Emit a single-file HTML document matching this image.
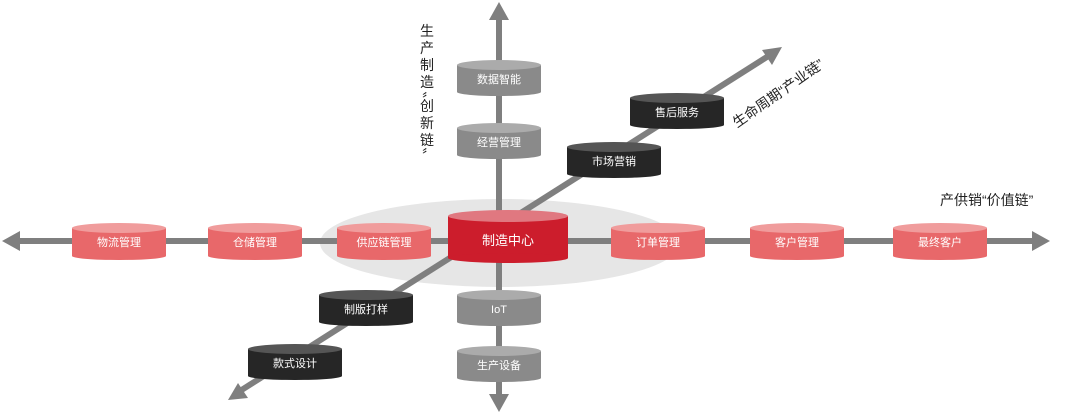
<!DOCTYPE html>
<html><head><meta charset="utf-8"><style>
html,body{margin:0;padding:0;background:#fff;width:1080px;height:414px;overflow:hidden}
text{font-family:"Liberation Sans","Noto Sans CJK SC",sans-serif}
</style></head><body>
<svg width="1080" height="414" viewBox="0 0 1080 414" xmlns="http://www.w3.org/2000/svg">
<ellipse cx="500" cy="243" rx="180" ry="44" fill="#e6e6e6"/>
<g stroke="#7f7f7f" stroke-width="6" fill="none">
<line x1="499" y1="18" x2="499" y2="400"/>
<line x1="16" y1="241" x2="1038" y2="241"/>
<line x1="240" y1="391" x2="770" y2="55"/>
</g>
<g fill="#7f7f7f">
<polygon points="499,2 489,20 509,20"/>
<polygon points="499,412 489,394 509,394"/>
<polygon points="2,241 20,231 20,251"/>
<polygon points="1050,241 1032,231 1032,251"/>
<polygon points="782,47 762,50 772,65"/>
<polygon points="228,400 238,383 248,398"/>
</g>
<g font-size="11" fill="#fff" text-anchor="middle">
<!-- gray -->
<rect x="457" y="65" width="84" height="27" fill="#8a8a8a"/><ellipse cx="499" cy="92" rx="42" ry="4" fill="#8a8a8a"/><ellipse cx="499" cy="65" rx="42" ry="5" fill="#ababab"/><text x="499" y="83">数据智能</text>
<rect x="457" y="128" width="84" height="27" fill="#8a8a8a"/><ellipse cx="499" cy="155" rx="42" ry="4" fill="#8a8a8a"/><ellipse cx="499" cy="128" rx="42" ry="5" fill="#ababab"/><text x="499" y="146">经营管理</text>
<rect x="457" y="295" width="84" height="27" fill="#8a8a8a"/><ellipse cx="499" cy="322" rx="42" ry="4" fill="#8a8a8a"/><ellipse cx="499" cy="295" rx="42" ry="5" fill="#ababab"/><text x="499" y="313">IoT</text>
<rect x="457" y="351" width="84" height="27" fill="#8a8a8a"/><ellipse cx="499" cy="378" rx="42" ry="4" fill="#8a8a8a"/><ellipse cx="499" cy="351" rx="42" ry="5" fill="#ababab"/><text x="499" y="369">生产设备</text>
<!-- black -->
<rect x="630" y="98" width="94" height="27" fill="#262626"/><ellipse cx="677" cy="125" rx="47" ry="4" fill="#262626"/><ellipse cx="677" cy="98" rx="47" ry="5" fill="#555"/><text x="677" y="116">售后服务</text>
<rect x="567" y="147" width="94" height="27" fill="#262626"/><ellipse cx="614" cy="174" rx="47" ry="4" fill="#262626"/><ellipse cx="614" cy="147" rx="47" ry="5" fill="#555"/><text x="614" y="165">市场营销</text>
<rect x="319" y="295" width="94" height="27" fill="#262626"/><ellipse cx="366" cy="322" rx="47" ry="4" fill="#262626"/><ellipse cx="366" cy="295" rx="47" ry="5" fill="#555"/><text x="366" y="313">制版打样</text>
<rect x="248" y="349" width="94" height="27" fill="#262626"/><ellipse cx="295" cy="376" rx="47" ry="4" fill="#262626"/><ellipse cx="295" cy="349" rx="47" ry="5" fill="#555"/><text x="295" y="367">款式设计</text>
<!-- pink -->
<rect x="72" y="228" width="94" height="28" fill="#e8686a"/><ellipse cx="119" cy="256" rx="47" ry="4" fill="#e8686a"/><ellipse cx="119" cy="228" rx="47" ry="5" fill="#f09c9c"/><text x="119" y="246">物流管理</text>
<rect x="208" y="228" width="94" height="28" fill="#e8686a"/><ellipse cx="255" cy="256" rx="47" ry="4" fill="#e8686a"/><ellipse cx="255" cy="228" rx="47" ry="5" fill="#f09c9c"/><text x="255" y="246">仓储管理</text>
<rect x="337" y="228" width="94" height="28" fill="#e8686a"/><ellipse cx="384" cy="256" rx="47" ry="4" fill="#e8686a"/><ellipse cx="384" cy="228" rx="47" ry="5" fill="#f09c9c"/><text x="384" y="246">供应链管理</text>
<rect x="611" y="228" width="94" height="28" fill="#e8686a"/><ellipse cx="658" cy="256" rx="47" ry="4" fill="#e8686a"/><ellipse cx="658" cy="228" rx="47" ry="5" fill="#f09c9c"/><text x="658" y="246">订单管理</text>
<rect x="750" y="228" width="94" height="28" fill="#e8686a"/><ellipse cx="797" cy="256" rx="47" ry="4" fill="#e8686a"/><ellipse cx="797" cy="228" rx="47" ry="5" fill="#f09c9c"/><text x="797" y="246">客户管理</text>
<rect x="893" y="228" width="94" height="28" fill="#e8686a"/><ellipse cx="940" cy="256" rx="47" ry="4" fill="#e8686a"/><ellipse cx="940" cy="228" rx="47" ry="5" fill="#f09c9c"/><text x="940" y="246">最终客户</text>
<!-- center -->
<rect x="448" y="216" width="120" height="42" fill="#cc1d2c"/><ellipse cx="508" cy="258" rx="60" ry="5" fill="#cc1d2c"/><ellipse cx="508" cy="216" rx="60" ry="6" fill="#e07880"/><text x="508" y="245" font-size="13">制造中心</text>
</g>
<g font-size="14" fill="#222">
<text x="420" y="36">生</text><text x="420" y="53">产</text><text x="420" y="70">制</text><text x="420" y="87">造</text>
<text x="422" y="104">〞</text><text x="420" y="111">创</text><text x="420" y="128">新</text><text x="420" y="145">链</text><text x="422" y="160">〞</text>
<text x="940" y="205">产供销“价值链”</text>
<text transform="translate(737,128) rotate(-35)">生命周期“产业链”</text>
</g>
</svg>
</body></html>
